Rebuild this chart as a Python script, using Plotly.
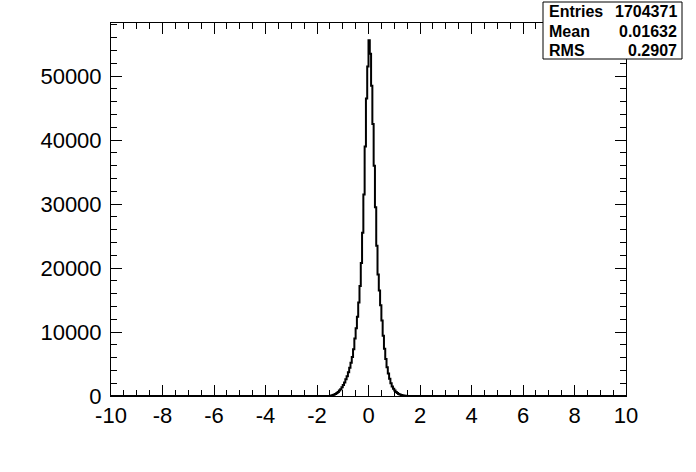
import plotly.graph_objects as go

# histogram bin left edges (width 0.05) and contents
bin_width = 0.05
bin_lo = [round(-1.5 + i * bin_width, 3) for i in range(60)]
counts = [50, 80, 140, 220, 320, 450, 620, 850, 1050, 1350,
          1700, 2100, 2600, 3100, 3700, 4400, 5200, 6100, 7300, 9000,
          10600, 12400, 14600, 17200, 20800, 25500, 31500, 39000, 46500, 51500,
          55600, 53500, 48500, 42500, 36000, 29500, 23500, 19000, 16500, 14200,
          11800, 9400, 7400, 5800, 4500, 3500, 2700, 2000, 1500, 1150,
          850, 630, 460, 330, 240, 170, 120, 80, 50, 30]
x_range = [-10, 10]
y_max = 58300
x_ticks = [-10, -8, -6, -4, -2, 0, 2, 4, 6, 8, 10]
x_tick_labels = ["-10", "-8", "-6", "-4", "-2", "0", "2", "4", "6", "8", "10"]
y_ticks = [0, 10000, 20000, 30000, 40000, 50000]
y_tick_labels = ["0", "10000", "20000", "30000", "40000", "50000"]
stat_names = ["Entries", "Mean", "RMS"]
stat_values = ["1704371", "0.01632", "0.2907"]

xs = [x_range[0]] + bin_lo + [round(bin_lo[-1] + bin_width, 3), x_range[1]]
ys = [0] + counts + [0, 0]

W, H = 696, 472
L, R, T, B = 111, 626, 23, 396

fig = go.Figure()
fig.add_trace(go.Scatter(x=xs, y=ys, mode="lines", line_shape="hv",
                         line=dict(color="black", width=2), hoverinfo="skip",
                         showlegend=False))

font = dict(family="Liberation Sans, Arial, sans-serif", size=22, color="black")

fig.update_layout(
    width=W, height=H,
    margin=dict(l=L, r=W - R, t=T, b=H - B, pad=0),
    paper_bgcolor="white", plot_bgcolor="white",
    font=font,
    xaxis=dict(range=x_range, tickvals=x_ticks, ticktext=x_tick_labels,
               ticks="inside", ticklen=11,
               tickwidth=1, tickcolor="black", showline=True, linecolor="black",
               linewidth=1, mirror="ticks", showgrid=False, zeroline=False,
               minor=dict(dtick=0.5, ticks="inside", ticklen=6, tickcolor="black",
                          showgrid=False),
               tickfont=font, ticklabelstandoff=0),
    yaxis=dict(range=[0, y_max], tickvals=y_ticks, ticktext=y_tick_labels,
               ticks="inside", ticklen=11,
               tickwidth=1, tickcolor="black", showline=True, linecolor="black",
               linewidth=1, mirror="ticks", showgrid=False, zeroline=False,
               minor=dict(dtick=2000, ticks="inside", ticklen=6, tickcolor="black",
                          showgrid=False),
               tickfont=font, ticklabelstandoff=4),
)

# stats box (pixel positions converted to paper coords)
def px(xp):
    return (xp - L) / (R - L)

def py(yp):
    return (B - yp) / (B - T)

bx0, bx1, by0, by1 = 543, 682, 2, 59
fig.add_shape(type="rect", xref="paper", yref="paper",
              x0=px(bx0), x1=px(bx1), y0=py(by1), y1=py(by0),
              line=dict(color="black", width=1), fillcolor="white", layer="above")
row_y = [12, 31, 50]
bold = dict(family="Liberation Sans, Arial, sans-serif", size=16, color="black")
for name, val, yy in zip(stat_names, stat_values, row_y):
    fig.add_annotation(xref="paper", yref="paper", x=px(547), y=py(yy),
                       text="<b>%s</b>" % name, showarrow=False,
                       xanchor="left", yanchor="middle", font=bold)
    fig.add_annotation(xref="paper", yref="paper", x=px(679), y=py(yy),
                       text="<b>%s</b>" % val, showarrow=False,
                       xanchor="right", yanchor="middle", font=bold)

fig.write_html("out.html", config={"displayModeBar": False},
               post_script="document.body.style.margin='0';document.body.style.padding='0';")
